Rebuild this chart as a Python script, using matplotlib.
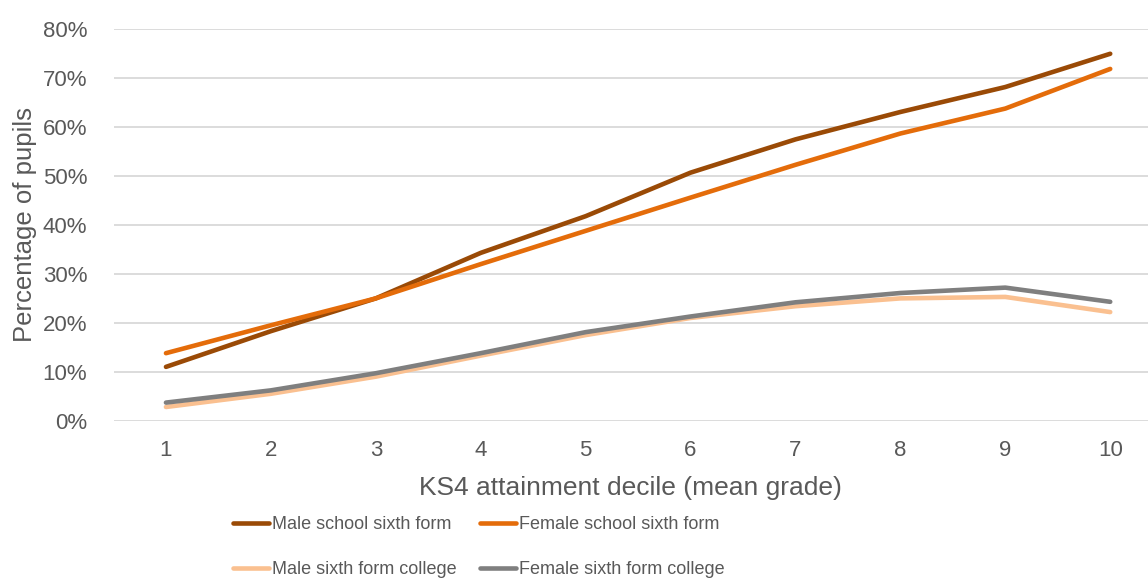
import matplotlib.pyplot as plt
from matplotlib.ticker import PercentFormatter

plt.rcParams['font.family'] = ['Liberation Sans', 'DejaVu Sans']

deciles = [1, 2, 3, 4, 5, 6, 7, 8, 9, 10]
male_school = [11.0, 18.3, 25.0, 34.3, 41.8, 50.7, 57.5, 63.1, 68.2, 75.0]
female_school = [13.8, 19.5, 25.0, 32.0, 38.8, 45.6, 52.3, 58.7, 63.8, 71.9]
male_college = [2.8, 5.5, 9.0, 13.3, 17.5, 21.0, 23.4, 25.0, 25.3, 22.2]
female_college = [3.7, 6.2, 9.7, 13.8, 18.1, 21.3, 24.2, 26.1, 27.2, 24.3]

labels = ['Male school sixth form', 'Female school sixth form',
          'Male sixth form college', 'Female sixth form college']
colors = ['#9A4A06', '#E46C0A', '#FAC090', '#7F7F7F']
series = [male_school, female_school, male_college, female_college]

fig = plt.figure(figsize=(11.48, 5.78), dpi=100)
ax = fig.add_axes([113.5 / 1148, (578 - 420.7) / 578, 1 - 113.5 / 1148, (420.7 - 29.3) / 578])

lines = []
for vals, lab, col in zip(series, labels, colors):
    ln, = ax.plot(deciles, [v / 100 for v in vals], color=col, lw=3.3, label=lab,
                  solid_capstyle='round', solid_joinstyle='round')
    lines.append(ln)

ax.set_xlim(0.5, 10.36)
ax.set_ylim(0, 0.8)
ax.set_yticks([i / 10 for i in range(9)])
ax.yaxis.set_major_formatter(PercentFormatter(1.0, decimals=0))
ax.set_xticks(deciles)
ax.grid(axis='y', color='#D9D9D9', lw=1.3)
ax.set_axisbelow(True)
for s in ax.spines.values():
    s.set_visible(False)
ax.tick_params(length=0, labelsize=16, colors='#595959')
ax.tick_params(axis='x', pad=14)
ax.tick_params(axis='y', pad=19)
ax.set_xlabel('KS4 attainment decile (mean grade)', fontsize=19, color='#595959', labelpad=11)
ax.set_ylabel('Percentage of pupils', fontsize=18.5, color='#595959', labelpad=4)

# legend is filled column by column, so interleave to get row order
order = [0, 2, 1, 3]
leg = ax.legend([lines[i] for i in order], [labels[i] for i in order], ncol=2,
                loc='center left', bbox_to_anchor=(233 / 1148, 1 - 547 / 578),
                bbox_transform=fig.transFigure, frameon=False, fontsize=13,
                handlelength=2.0, handletextpad=0.15, columnspacing=1.3,
                labelspacing=1.55, borderpad=0, borderaxespad=0)
for t in leg.get_texts():
    t.set_color('#595959')

fig.savefig('out.png', dpi=100)
